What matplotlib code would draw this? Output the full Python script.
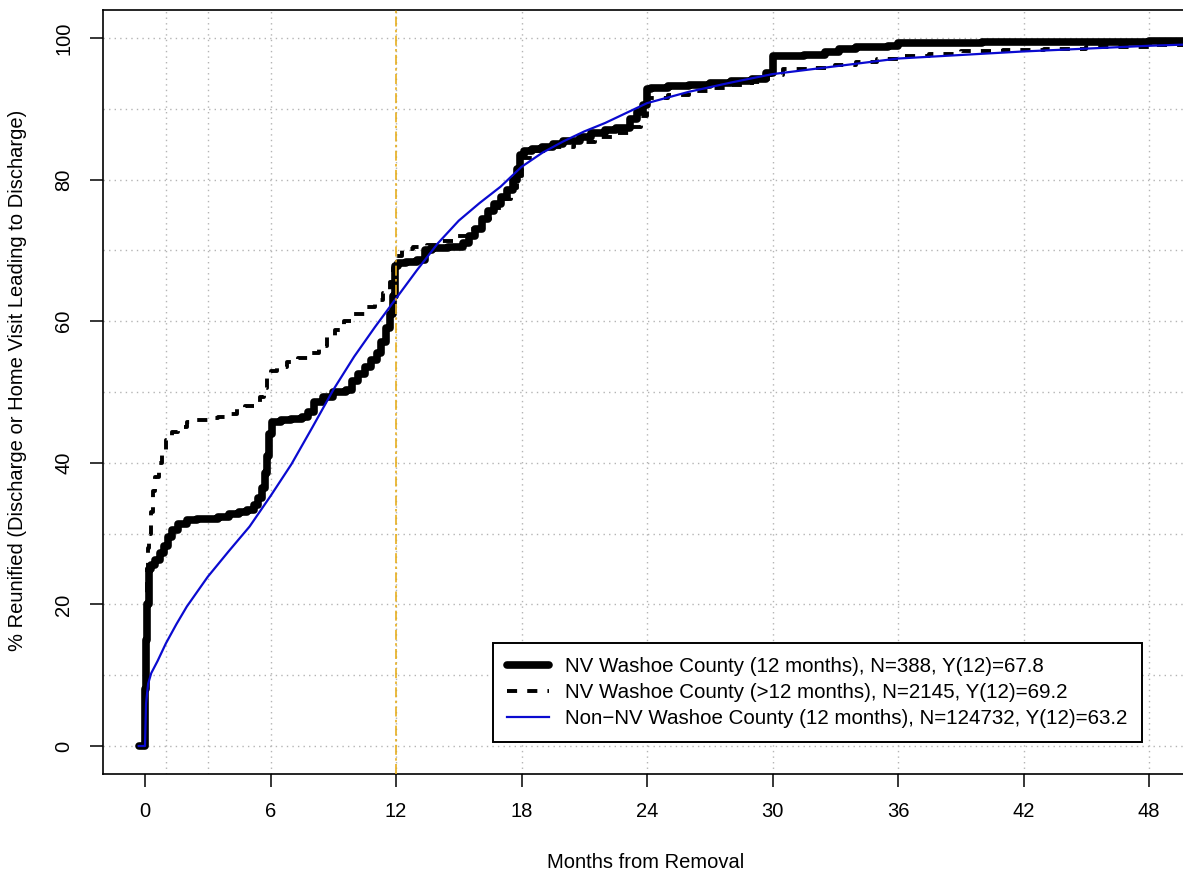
import matplotlib
matplotlib.use("Agg")
import matplotlib.pyplot as plt
from matplotlib.lines import Line2D

plt.rcParams['font.family'] = ['Liberation Sans', 'DejaVu Sans']

# ---------------- data ----------------
x_ticks = [0, 6, 12, 18, 24, 30, 36, 42, 48]
y_ticks = [0, 20, 40, 60, 80, 100]
vgrid = [1, 3, 6, 12, 18, 24, 30, 36, 42, 48]
hgrid = [0, 10, 20, 30, 40, 50, 60, 70, 80, 90, 100]
cutoff_month = 12

labels = [
    "NV Washoe County (12 months), N=388, Y(12)=67.8",
    "NV Washoe County (>12 months), N=2145, Y(12)=69.2",
    "Non\u2212NV Washoe County (12 months), N=124732, Y(12)=63.2",
]

# NV Washoe County (12 months) - step curve
wash12_x = [-0.3, 0.0, 0.05, 0.1, 0.2, 0.3, 0.5, 0.7, 0.9, 1.1,
            1.3, 1.6, 2.0, 2.5, 3.0, 3.5, 4.0, 4.5, 4.9, 5.2,
            5.4, 5.6, 5.75, 5.85, 5.95, 6.05, 6.5, 7.0, 7.5, 7.8,
            8.1, 8.5, 9.0, 9.6, 9.9, 10.2, 10.5, 10.8, 11.1, 11.3,
            11.5, 11.7, 11.85, 11.95, 12.1, 12.5, 13.0, 13.4, 13.7, 14.5,
            15.2, 15.5, 15.8, 16.1, 16.4, 16.7, 17.0, 17.3, 17.6, 17.8,
            17.95, 18.1, 18.5, 19.0, 19.5, 20.0, 20.8, 21.3, 22.0, 22.5,
            23.2, 23.5, 23.8, 24.0, 24.2, 25.0, 26.0, 27.0, 28.0, 29.0,
            29.7, 30.0, 31.5, 32.5, 33.2, 34.0, 35.5, 36.0, 40.0, 44.0,
            48.0, 50.0]
wash12_y = [0, 8, 15, 20, 25, 25.5, 26.3, 27.3, 28.2, 29.5,
            30.5, 31.3, 31.9, 32.0, 32.1, 32.3, 32.7, 33.0, 33.3, 34.0,
            35.0, 36.5, 38.5, 41.0, 44.0, 45.8, 46.0, 46.2, 46.5, 47.2,
            48.6, 49.3, 50.0, 50.3, 51.5, 52.5, 53.5, 54.5, 55.5, 57.0,
            59.0, 61.0, 63.5, 67.8, 68.2, 68.3, 68.6, 70.0, 70.4, 70.5,
            71.0, 72.0, 73.0, 74.5, 75.5, 76.5, 77.5, 78.5, 80.0, 81.5,
            83.5, 84.0, 84.3, 84.6, 85.0, 85.5, 86.0, 86.6, 87.0, 87.3,
            88.5, 89.5, 90.5, 92.8, 93.0, 93.2, 93.4, 93.6, 93.9, 94.2,
            95.0, 97.4, 97.6, 98.0, 98.5, 98.7, 98.9, 99.3, 99.4, 99.5,
            99.6, 99.6]

# NV Washoe County (>12 months) - step curve
washlong_x = [-0.3, 0.0, 0.05, 0.1, 0.15, 0.2, 0.3, 0.4, 0.5, 0.65,
              0.8, 1.0, 1.3, 1.6, 2.0, 2.5, 3.0, 3.5, 4.0, 4.4,
              4.8, 5.2, 5.5, 5.7, 5.85, 6.0, 6.3, 6.8, 7.3, 7.9,
              8.3, 8.7, 9.1, 9.5, 10.0, 10.5, 11.0, 11.4, 11.7, 11.85,
              11.95, 12.3, 12.8, 13.5, 14.2, 14.9, 15.5, 16.0, 16.5, 17.0,
              17.5, 17.8, 18.0, 18.5, 19.5, 20.5, 21.5, 22.5, 23.2, 23.7,
              24.0, 25.0, 26.0, 27.0, 28.0, 29.0, 29.8, 30.5, 32.0, 33.0,
              34.0, 35.0, 36.0, 37.5, 39.0, 41.0, 43.0, 45.0, 48.0, 50.0]
washlong_y = [0, 10, 18, 25, 28, 30, 33, 36, 38, 40,
              41.5, 43.2, 44.3, 45.0, 45.7, 46.1, 46.3, 46.5, 46.9, 47.6,
              48.0, 48.5, 49.3, 50.5, 52.0, 53.0, 53.6, 54.2, 54.8, 55.5,
              56.5, 57.7, 58.8, 60.0, 61.0, 62.0, 63.0, 64.0, 65.5, 67.5,
              69.2, 70.2, 70.5, 70.8, 71.3, 72.0, 73.0, 74.5, 76.0, 77.3,
              78.8, 80.5, 83.0, 84.0, 84.6, 85.3, 86.0, 86.6, 87.5, 89.0,
              91.5, 92.0, 92.5, 93.0, 93.4, 93.8, 94.8, 95.6, 95.8, 96.2,
              96.6, 97.0, 97.4, 97.8, 98.1, 98.3, 98.5, 98.7, 99.0, 99.1]

# Non-NV Washoe County (12 months) - smooth curve
nonnv_x = [-0.3, 0.0, 0.05, 0.15, 0.3, 0.6, 1.0, 1.5, 2.0, 3.0,
           4.0, 5.0, 6.0, 7.0, 8.0, 9.0, 10.0, 11.0, 12.0, 13.0,
           14.0, 15.0, 16.0, 17.0, 18.0, 19.0, 20.0, 21.0, 22.0, 24.0,
           26.0, 28.0, 30.0, 33.0, 36.0, 39.0, 42.0, 45.0, 48.0, 50.0]
nonnv_y = [0, 0, 6.0, 8.8, 10.3, 12.0, 14.5, 17.2, 19.7, 23.9,
           27.5, 31.0, 35.3, 39.8, 45.0, 50.3, 55.0, 59.2, 63.2, 67.2,
           71.0, 74.2, 76.7, 79.0, 81.8, 83.8, 85.4, 86.8, 88.0, 90.8,
           92.4, 93.7, 94.9, 96.0, 97.1, 97.6, 98.1, 98.5, 98.9, 99.1]

# ---------------- figure ----------------
W, H = 1183, 874
fig = plt.figure(figsize=(W / 100, H / 100), dpi=100)
left_px, right_px, top_px, bottom_px = 103, 1190, 10, 774
ax = fig.add_axes([left_px / W, (H - bottom_px) / H,
                   (right_px - left_px) / W, (bottom_px - top_px) / H])

px_per_month = (1149 - 145) / 48.0
ax.set_xlim(-(145 - left_px) / px_per_month, (right_px - 145) / px_per_month)
px_per_unit = (746 - 38) / 100.0
ax.set_ylim(-(bottom_px - 746) / px_per_unit, (746 - top_px) / px_per_unit)

grid_kw = dict(color='#b4b4b4', lw=1.0, ls=(0, (1, 3)), zorder=1)
for v in vgrid:
    ax.axvline(v, **grid_kw)
for h in hgrid:
    ax.axhline(h, **grid_kw)

ax.plot(wash12_x, wash12_y, drawstyle='steps-post', color='black', lw=5.5,
        solid_capstyle='round', solid_joinstyle='round', zorder=3)
ax.plot(washlong_x, washlong_y, drawstyle='steps-post', color='black', lw=2.8,
        dashes=(2.6, 2.6), dash_capstyle='butt', zorder=4)
ax.plot(nonnv_x, nonnv_y, color='#0a0ad0', lw=1.6, zorder=5)
ax.axvline(cutoff_month, color='#e6ae1e', lw=1.2, ls=(0, (6, 2, 1.5, 2)), zorder=6)

for s in ['left', 'bottom', 'top']:
    ax.spines[s].set_linewidth(1.2)
ax.spines['right'].set_visible(False)

fs = 14.5
ax.set_xticks(x_ticks)
ax.set_xticklabels([str(t) for t in x_ticks], fontsize=fs)
ax.set_yticks(y_ticks)
ax.set_yticklabels([str(t) for t in y_ticks], fontsize=fs, rotation=90, va='center')
ax.tick_params(axis='both', direction='out', length=9.5, width=1.1)
ax.tick_params(axis='x', pad=11)
ax.tick_params(axis='y', pad=12)

fig.text(646 / W, 1 - 862 / H, "Months from Removal", fontsize=fs,
         ha='center', va='center')
fig.text(18 / W, 1 - 380 / H,
         "% Reunified (Discharge or Home Visit Leading to Discharge)",
         fontsize=fs, ha='center', va='center', rotation=90)

handles = [
    Line2D([], [], color='black', lw=5.5, solid_capstyle='round'),
    Line2D([], [], color='black', lw=2.8, dashes=(2.6, 2.6), dash_capstyle='butt'),
    Line2D([], [], color='#0a0ad0', lw=1.6),
]
leg = ax.legend(handles, labels, loc='upper left',
                bbox_to_anchor=((493 - left_px) / (right_px - left_px),
                                (bottom_px - 643) / (bottom_px - top_px)),
                prop={'size': 14.8}, frameon=True, fancybox=False, shadow=False,
                handlelength=2.0, handletextpad=0.8, labelspacing=0.33,
                borderpad=0.7, borderaxespad=0.0)
leg.get_frame().set_edgecolor('black')
leg.get_frame().set_linewidth(1.4)
leg.get_frame().set_alpha(1)
leg.set_zorder(10)

fig.savefig('out.png', dpi=100)
